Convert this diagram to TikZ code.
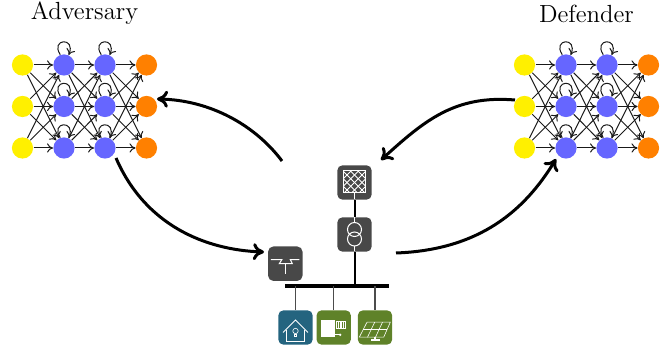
\documentclass[tikz,border=0pt]{standalone}
\usetikzlibrary{arrows.meta}
\definecolor{inyellow}{HTML}{FFF000}
\definecolor{hidblue}{HTML}{6666FF}
\definecolor{outorange}{HTML}{FF8000}
\definecolor{iconteal}{HTML}{24647F}
\definecolor{icongreen}{HTML}{5F8229}
\definecolor{icongrey}{HTML}{484848}
\tikzset{
	neuron/.style={circle,inner sep=0pt,minimum size=10.6pt},
	link/.style={black!90,line width=0.5pt,-{To[length=3pt,width=4.6pt]}},
	bigarrow/.style={black,line width=1.5pt,-{To[length=5.5pt,width=8.5pt]}},
	icon/.style={rounded corners=2.6pt,inner sep=0pt,minimum size=17.2pt},
	wire/.style={white,line width=0.5pt},
	busline/.style={black!70,line width=0.75pt},
	title/.style={anchor=base,font=\fontsize{12.4}{15}\selectfont}
}
\begin{document}
\begin{tikzpicture}[x=0.5pt,y=-0.5pt]
	\useasboundingbox (0,0) rectangle (670,351);
	% titles
	\node [title] (advtitle) at (84.5,20) {Adversary};
	\node [title] (deftitle) at (586.5,22.5) {Defender};
	% the two networks
	\foreach \net/\xo in {adv/0,def/502}{
		\foreach \r/\y in {1/65,2/106.5,3/148}{
			\node [neuron,fill=inyellow] (\net-i\r) at (22.5+\xo,\y) {};
			\node [neuron,fill=hidblue] (\net-a\r) at (64+\xo,\y) {};
			\node [neuron,fill=hidblue] (\net-b\r) at (105+\xo,\y) {};
			\node [neuron,fill=outorange] (\net-o\r) at (146.5+\xo,\y) {};
		}
		\foreach \r in {1,2,3}{
			\foreach \s in {1,2,3}{
				\draw [link] (\net-i\r) -- (\net-a\s);
				\draw [link] (\net-a\r) -- (\net-b\s);
				\draw [link] (\net-b\r) -- (\net-o\s);
			}
			\draw [link] (\net-a\r.110) .. controls +(-10.4,-16) and +(7.6,-18.5) .. (\net-a\r.65);
			\draw [link] (\net-b\r.110) .. controls +(-10.4,-16) and +(7.6,-18.5) .. (\net-b\r.65);
		}
	}
	% grid side
	\node [icon,fill=icongrey] (grid) at (354.5,182.5) {};
	\node [icon,fill=icongrey] (trafo) at (354.5,234.5) {};
	\node [icon,fill=icongrey] (switch) at (285.3,263.7) {};
	\node [fill=black,inner sep=0pt,minimum width=52pt,minimum height=2pt] (bus) at (337,286.5) {};
	\node [icon,fill=iconteal] (load) at (295.5,327.5) {};
	\node [icon,fill=icongreen] (storage) at (333.7,327.5) {};
	\node [icon,fill=icongreen] (solar) at (375,327.5) {};
	\draw [black,line width=1pt] (grid) -- (trafo);
	\draw [black,line width=1pt] (trafo) -- (trafo |- bus);
	\draw [busline] (load) -- (load |- bus);
	\draw [busline] (storage) -- (storage |- bus);
	\draw [busline] (solar) -- (solar |- bus);
	% grid icon
	\begin{scope}[shift={(grid.center)}]
		\begin{scope}
			\clip (-11,-11.5) rectangle (11,10);
			\foreach \d in {-30,-22.5,...,30}{
				\draw [wire] (\d-12,-12) -- (\d+12,12);
				\draw [wire] (\d+12,-12) -- (\d-12,12);
			}
		\end{scope}
		\draw [wire] (-11,-11.5) rectangle (11,10);
		\draw [wire] (0,10) -- (0,17);
	\end{scope}
	% transformer icon
	\begin{scope}[shift={(trafo.center)}]
		\draw [wire] (0,-5) circle (7);
		\draw [wire] (0,4.5) circle (7);
		\draw [wire] (0,-17) -- (0,-12);
		\draw [wire] (0,11.5) -- (0,17);
	\end{scope}
	% switch icon
	\begin{scope}[shift={(switch.center)}]
		\draw [wire] (-14.5,-4) -- (-3.5,-4) -- (-6,0) -- (7,0) -- (5,-4) -- (14,-4);
		\draw [wire,line width=0.8pt] (-6,0) -- (7,0);
		\draw [wire] (0,0) -- (0,10);
	\end{scope}
	% load icon
	\begin{scope}[shift={(load.center)}]
		\draw [wire,line width=0.4pt] (-12.5,5) -- (0,-7.5) -- (12.5,5);
		\draw [wire,line width=0.4pt] (-9.3,3) -- (-9.3,13.5) -- (9.3,13.5) -- (9.3,3);
		\draw [wire,line width=0.3pt] (0,3.5) circle (2.7);
		\draw [wire,line width=0.3pt] (-1.2,6.5) rectangle (1.2,9);
	\end{scope}
	% storage icon
	\begin{scope}[shift={(storage.center)}]
		\fill [white] (-12.8,-7.7) rectangle (1.5,9.7);
		\draw [wire,line width=0.4pt] (2.5,-6) rectangle (12,1.3);
		\foreach \x in {5,7.3,9.6}{
			\draw [wire,line width=0.6pt] (\x,-6) -- (\x,1.3);
		}
		\draw [wire] (1.5,7.3) -- (6.5,7.3);
		\fill [white] (6.5,7.3) circle (1.3);
	\end{scope}
	% solar icon
	\begin{scope}[shift={(solar.center)}]
		\draw [wire,line width=0.3pt] (-8,-5.3) -- (15.3,-5.3) -- (8.7,9.7) -- (-15.7,9.7) -- cycle;
		\draw [wire,line width=0.3pt] (-11.8,2.2) -- (12,2.2);
		\draw [wire,line width=0.3pt] (-0.3,-5.3) -- (-7.5,9.7);
		\draw [wire,line width=0.3pt] (7.5,-5.3) -- (0.5,9.7);
		\draw [wire,line width=0.8pt] (0,9.7) -- (0,12.2);
		\draw [wire,line width=0.8pt] (-4,12.7) -- (5,12.7);
	\end{scope}
	% free ends of the big arrows
	\coordinate (advfrom) at (116,158);
	\coordinate (advinto) at (264,252);
	\coordinate (advback) at (282,161);
	\coordinate (advtip) at (157,99);
	\coordinate (defback) at (381,160);
	\coordinate (deftail) at (515,100);
	\coordinate (deffrom) at (396,253);
	\coordinate (definto) at (556,159);
	\draw [bigarrow] (advback) .. controls (255,125) and (210,100) .. (advtip);
	\draw [bigarrow] (advfrom) .. controls (145,225) and (205,250) .. (advinto);
	\draw [bigarrow] (deftail) .. controls (455,95) and (425,120) .. (defback);
	\draw [bigarrow] (deffrom) .. controls (480,250) and (525,210) .. (definto);
\end{tikzpicture}
\end{document}
